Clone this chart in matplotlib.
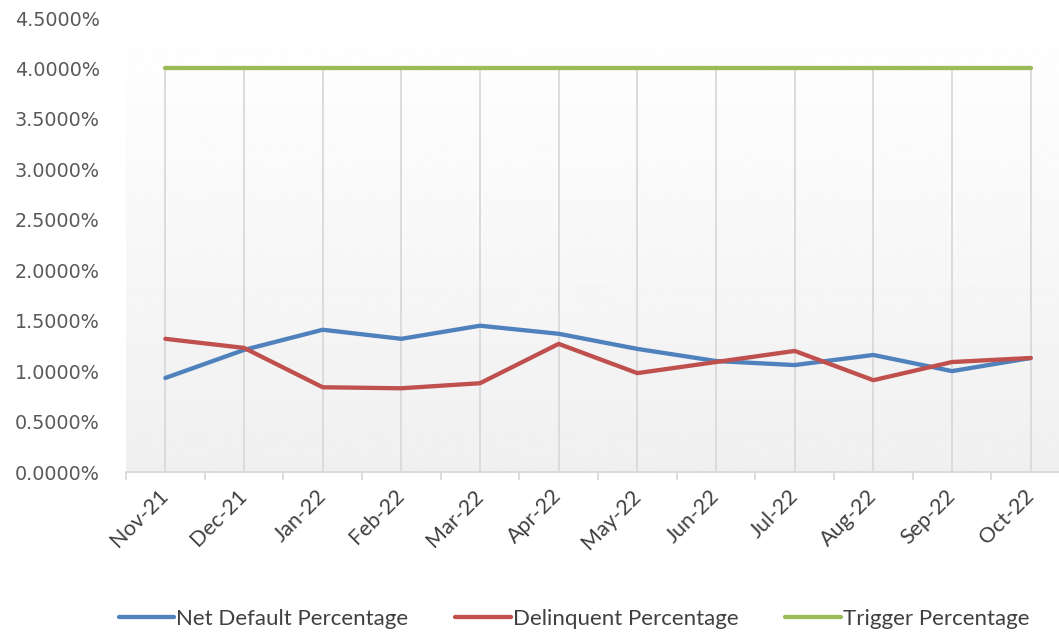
import numpy as np
import matplotlib.pyplot as plt
from matplotlib.ticker import FuncFormatter, FixedLocator

months = ['Nov-21', 'Dec-21', 'Jan-22', 'Feb-22', 'Mar-22', 'Apr-22',
          'May-22', 'Jun-22', 'Jul-22', 'Aug-22', 'Sep-22', 'Oct-22']
net_default = [0.932, 1.21, 1.41, 1.32, 1.45, 1.37, 1.22, 1.10, 1.06, 1.16, 1.00, 1.13]
delinquent = [1.32, 1.23, 0.84, 0.83, 0.88, 1.27, 0.98, 1.09, 1.20, 0.91, 1.09, 1.13]
trigger = [4.0] * 12

series = [
    ('Net Default Percentage', net_default, '#4F81BD'),
    ('Delinquent Percentage', delinquent, '#C0504D'),
    ('Trigger Percentage', trigger, '#9BBB59'),
]

W, H = 1059, 635
fig = plt.figure(figsize=(W / 100, H / 100), dpi=100)
# plot area in pixel coords: left 126, right edge of image, top y=18, bottom y=472
ax = fig.add_axes([126 / W, 1 - 472 / H, 1 - 126 / W, (472 - 18) / H])

x = np.arange(len(months))
xlo, xhi = -0.5, 11.36
ylo, yhi = 0, 4.5

# soft vertical gradient behind the plot
grad = np.linspace(1.0, 0.94, 256).reshape(-1, 1)
ax.imshow(grad, extent=[xlo, xhi, ylo, yhi], aspect='auto', cmap='gray',
          vmin=0, vmax=1, zorder=0, origin='upper')

for xi in x:
    ax.plot([xi, xi], [ylo, 4.0], color='#d9d9d9', lw=1.3, zorder=1)

for name, vals, col in series:
    ax.plot(x, vals, color=col, lw=3.1, label=name, zorder=3,
            solid_capstyle='round', solid_joinstyle='round')

ax.set_xlim(xlo, xhi)
ax.set_ylim(ylo, yhi)

for s in ['top', 'right', 'left']:
    ax.spines[s].set_visible(False)
ax.spines['bottom'].set_color('#d9d9d9')
ax.spines['bottom'].set_linewidth(1.3)

ax.set_yticks(np.arange(0, 4.51, 0.5))
ax.yaxis.set_major_formatter(FuncFormatter(lambda v, p: f'{v:.4f}%'))
ax.tick_params(axis='y', length=0, pad=19, labelsize=13.8, labelcolor='#595959')

ax.set_xticks(x)
ax.set_xticklabels(months, rotation=45, ha='right', va='center',
                   rotation_mode='anchor', family='Lato', fontsize=15.5,
                   color='#404040')
ax.tick_params(axis='x', which='major', length=0, pad=15)
ax.xaxis.set_minor_locator(FixedLocator(np.arange(-0.5, 12, 1.0)))
ax.tick_params(axis='x', which='minor', length=6, width=1.3, color='#d9d9d9')

leg = fig.legend(loc='center', bbox_to_anchor=(0.542, 1 - 619 / H), ncol=3,
                 frameon=False, handlelength=2.5, handletextpad=0.1,
                 columnspacing=2.1, prop={'family': 'Lato', 'size': 16})
for t in leg.get_texts():
    t.set_color('#404040')

fig.savefig('out.png', dpi=100)
